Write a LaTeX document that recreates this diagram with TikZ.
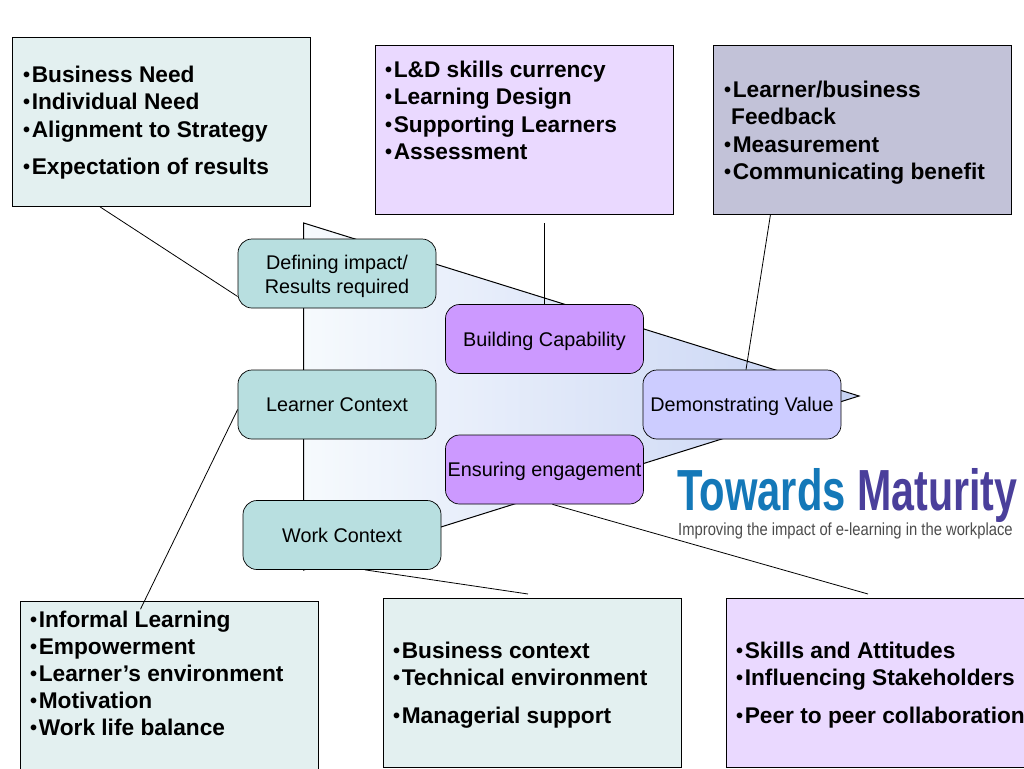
\documentclass[tikz,border=0pt]{standalone}
\usepackage{fontspec}
\setmainfont{Liberation Sans}
\definecolor{palegreen}{HTML}{E3F0F0}
\definecolor{palepurple}{HTML}{EAD9FF}
\definecolor{palegrey}{HTML}{C2C2D8}
\definecolor{stagegreen}{HTML}{B8DFE0}
\definecolor{stagepurple}{HTML}{CC99FF}
\definecolor{stageblue}{HTML}{CCCCFF}
\definecolor{wedgeleft}{HTML}{F6FAFD}
\definecolor{wedgemid}{HTML}{DDE9F7}
\definecolor{wedgeblue}{HTML}{C6D2F4}
\definecolor{logoblue}{HTML}{1478B8}
\definecolor{logopurple}{HTML}{4A3F9B}
\newcommand{\dotitem}{\makebox[8.6pt][l]{\raisebox{1pt}{\fontsize{20}{20}\selectfont•}}}
\tikzset{
  listbox/.style={draw=black,line width=0.7pt,minimum width=298pt,minimum height=169pt,inner sep=0pt},
  listtext/.style={anchor=north west,align=left,inner sep=0pt,font=\fontsize{22.7}{27.2}\selectfont\bfseries},
  stagebox/.style={draw=black,line width=0.7pt,rounded corners=14pt,minimum width=198pt,minimum height=69pt,
    inner sep=0pt,align=center,font=\fontsize{19.8}{24}\selectfont},
  oneline/.style={text height=18pt,text depth=4pt},
  link/.style={draw=black,line width=0.8pt}
}
\begin{document}
\begin{tikzpicture}[x=1pt,y=-1pt]
  \useasboundingbox (0,0) rectangle (1024,768);
  \clip (0,0) rectangle (1024,768);
  \draw[line width=1pt,left color=wedgeleft,middle color=wedgemid,right color=wedgeblue] (303.7,223) -- (859,396) -- (303.7,570) -- cycle;

  \node[listbox,fill=palegreen] (needbox) at (161,122) {};
  \node[listbox,fill=palepurple] (skillbox) at (524,129.5) {};
  \node[listbox,fill=palegrey] (valuebox) at (862.5,129.5) {};
  \node[listbox,fill=palegreen] (learnbox) at (169.5,686) {};
  \node[listbox,fill=palegreen] (workbox) at (532,683) {};
  \node[listbox,fill=palepurple] (engagebox) at (875,683) {};

  \node[listtext] (needtext) at (23,66) {\dotitem Business Need\\\dotitem Individual Need\\\dotitem Alignment to Strategy\\[10.5pt]\dotitem Expectation of results};
  \node[listtext] (skilltext) at (385,61) {\dotitem L\&D skills currency\\\dotitem Learning Design\\\dotitem Supporting Learners\\\dotitem Assessment};
  \node[listtext] (valuetext) at (724,81) {\dotitem Learner/business\\\hspace*{7pt}Feedback\\\dotitem Measurement\\\dotitem Communicating benefit};
  \node[listtext] (learntext) at (30,610.5) {\dotitem Informal Learning\\\dotitem Empowerment\\\dotitem Learner’s environment\\\dotitem Motivation\\\dotitem Work life balance};
  \node[listtext] (worktext) at (393,642) {\dotitem Business context\\\dotitem Technical environment\\[10.5pt]\dotitem Managerial support};
  \node[listtext] (engagetext) at (736,642) {\dotitem Skills and Attitudes\\\dotitem Influencing Stakeholders\\[10.5pt]\dotitem Peer to peer collaboration};

  \node[stagebox,fill=stagegreen] (defining) at (337,273.5) {\rule{0pt}{21pt}Defining impact/\\Results required};
  \node[stagebox,oneline,fill=stagepurple] (building) at (544.5,339) {Building Capability};
  \node[stagebox,oneline,fill=stagegreen] (learner) at (337,404.5) {Learner Context};
  \node[stagebox,oneline,fill=stageblue] (demonstrating) at (742,404.5) {Demonstrating Value};
  \node[stagebox,oneline,fill=stagepurple] (ensuring) at (544.5,469.5) {Ensuring engagement};
  \node[stagebox,oneline,fill=stagegreen] (work) at (342,535) {Work Context};

  \coordinate (skillfoot) at (544,223);
  \coordinate (workfoot) at (528,594);
  \coordinate (engagefoot) at (868,594);
  \draw[link] ([xshift=-61pt]needbox.south) -- ([yshift=-23pt]defining.west);
  \draw[link] (skillfoot) -- ([xshift=-0.5pt]building.north);
  \draw[link] ([xshift=-92pt]valuebox.south) -- ([xshift=4pt]demonstrating.north);
  \draw[link] ([yshift=-5pt]learner.west) -- ([xshift=-29pt,yshift=-8pt]learnbox.north);
  \draw[link] ([xshift=23pt]work.south) -- (workfoot);
  \draw[link] ([xshift=8pt]ensuring.south) -- (engagefoot);

  \node[inner sep=0pt,anchor=base west,xscale=0.72,text=logoblue,font=\fontsize{58}{58}\selectfont\bfseries] (towards) at (677,510) {Towards};
  \node[inner sep=0pt,anchor=base west,xscale=0.71,text=logopurple,font=\fontsize{58}{58}\selectfont\bfseries] (maturity) at (857,510) {Maturity};
  \node[inner sep=0pt,anchor=base west,xscale=0.845,text=black!70,font=\fontsize{17.5}{18}\selectfont] (tagline) at (678,535) {Improving the impact of e-learning in the workplace};
\end{tikzpicture}
\end{document}
